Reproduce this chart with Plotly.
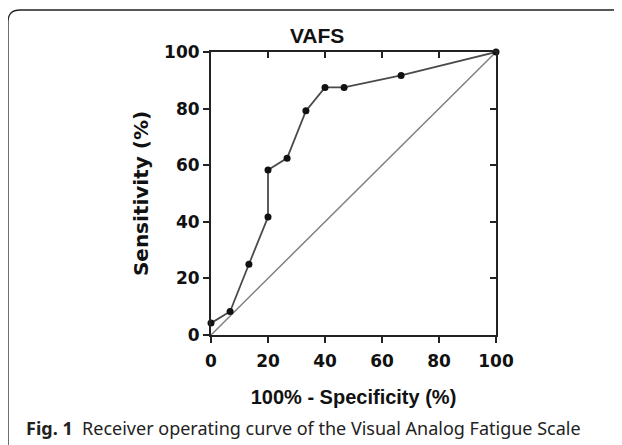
import plotly.graph_objects as go

# Data (ROC curve of VAFS)
fpr = [0, 6.7, 13.3, 20, 20, 26.7, 33.3, 40, 46.7, 66.7, 100]
tpr = [4.2, 8.3, 25.0, 41.7, 58.3, 62.5, 79.2, 87.5, 87.5, 91.7, 100]
diag_x = [0, 100]
diag_y = [0, 100]
ticks = [0, 20, 40, 60, 80, 100]
inner_ticks = [20, 40, 60, 80]

OFF = 8  # default page body margin
W, H = 622 - OFF, 445 - OFF
ML, MR, MT, MB = 211 - OFF, 126, 52 - OFF, 110
PW, PH = W - ML - MR, H - MT - MB


def px(x):
    return (x - OFF - ML) / PW


def py(y):
    return (H - MB - (y - OFF)) / PH


FONT = "Liberation Sans, Arial, sans-serif"
WIDE = "DejaVu Sans, sans-serif"

fig = go.Figure()
fig.add_trace(go.Scatter(x=diag_x, y=diag_y, mode="lines",
                         line=dict(color="#808080", width=1.5),
                         hoverinfo="skip", showlegend=False, cliponaxis=False))
fig.add_trace(go.Scatter(x=fpr, y=tpr, mode="lines+markers",
                         line=dict(color="#4a4a4a", width=1.8),
                         marker=dict(color="#111111", size=7),
                         showlegend=False, cliponaxis=False))
# invisible trace to anchor mirrored axes
fig.add_trace(go.Scatter(x=[0], y=[0], xaxis="x2", yaxis="y2", mode="markers",
                         marker=dict(opacity=0), hoverinfo="skip", showlegend=False))

axis_common = dict(range=[0, 100], showgrid=False, zeroline=False,
                   showline=True, linecolor="#222222", linewidth=2,
                   tickcolor="#222222", tickwidth=2, ticklen=6)
tickfont = dict(family=WIDE, size=17, color="#111111", weight="bold")

fig.update_layout(
    width=W, height=H,
    margin=dict(l=ML, r=MR, t=MT, b=MB),
    paper_bgcolor="white", plot_bgcolor="white",
    title=dict(text="<b>VAFS</b>", x=px(354.5), xanchor="center",
               y=1 - (36 - OFF) / H, yanchor="middle",
               font=dict(family=FONT, size=21, color="#111111")),
    xaxis=dict(**axis_common, ticks="outside", tickvals=ticks, tickfont=tickfont,
               ticklabelstandoff=4,
               title=dict(text="<b>100% - Specificity (%)</b>", standoff=20,
                          font=dict(family=FONT, size=20, color="#111111"))),
    yaxis=dict(**axis_common, ticks="outside", tickvals=ticks, tickfont=tickfont,
               title=dict(text="<b>Sensitivity (%)</b>", standoff=10,
                          font=dict(family=WIDE, size=20, color="#111111"))),
    xaxis2=dict(**axis_common, overlaying="x", side="top", anchor="y2",
                ticks="inside", tickvals=inner_ticks, showticklabels=False),
    yaxis2=dict(**axis_common, overlaying="y", side="right", anchor="x2",
                ticks="inside", tickvals=inner_ticks, showticklabels=False),
)

# Caption frame (top + left with rounded corner, running off the page)
fig.add_shape(type="path", xref="paper", yref="paper",
              path=(f"M {px(8)} {py(460)} L {px(8)} {py(22)} "
                    f"Q {px(8)} {py(10)} {px(20)} {py(10)} L {px(640)} {py(10)}"),
              line=dict(color="#222222", width=1.3))

fig.add_annotation(xref="paper", yref="paper", x=px(24), y=py(428),
                   xanchor="left", yanchor="middle", showarrow=False,
                   text="<b>Fig. 1</b>&nbsp;&nbsp;Receiver operating curve of the Visual Analog Fatigue Scale",
                   font=dict(family="Noto Sans, Open Sans, sans-serif", size=18, color="#222222"))

fig.write_html("out.html")
